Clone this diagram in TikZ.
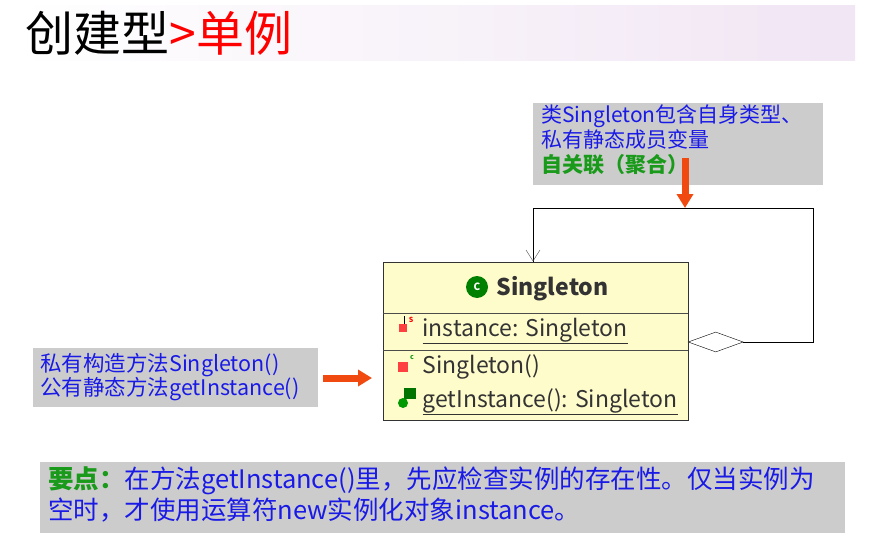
\documentclass[tikz,border=0pt]{standalone}
\usepackage{fontspec}
\setmainfont{Noto Sans CJK SC}
\usetikzlibrary{arrows.meta,shapes.geometric}
\definecolor{tblue}{HTML}{1A1AE6}
\definecolor{tgreen}{HTML}{1A9A1A}
\definecolor{gbox}{HTML}{CCCCCC}
\definecolor{orng}{HTML}{F04A10}
\tikzset{gray box/.style={fill=gbox,draw=none},
 orange arrow/.style={-{Triangle[length=14pt,width=16pt]},line width=7pt,draw=orng},
 member/.style={anchor=west,font=\fontsize{23}{26}\selectfont,text=black!80}}
\begin{document}
\begin{tikzpicture}[x=1pt,y=-1pt]
\useasboundingbox (0,0) rectangle (871,554);
\fill[white] (0,0) rectangle (871,554);
\shade[left color=white, right color=blue!12!violet!10!white] (18,5) rectangle (855,60);
\node[anchor=west,font=\fontsize{48}{52}\selectfont] (title) at (22,33) {创建型\textcolor{red}{>单例}};
% top note
\fill[gray box] (533,103) rectangle (823,185);
\node[anchor=north west,align=left,font=\fontsize{21}{25}\selectfont,inner sep=0] (note1) at (541,105)
 {\textcolor{tblue}{类Singleton包含自身类型、}\\\textcolor{tblue}{私有静态成员变量}\\\textcolor{tgreen}{\bfseries 自关联（聚合）}};
\coordinate (a1s) at (685,158);\coordinate (a1e) at (685,208);
\draw[orange arrow] (a1s) -- (a1e);
% class
\node[draw=black!80,fill=yellow!20,minimum width=305pt,minimum height=158pt,inner sep=0] (cls) at (535.5,341) {};
\draw[black!70] (383,313) -- (688,313) (383,350) -- (688,350);
\node[circle,fill=green!50!black,text=white,font=\bfseries\normalsize,minimum size=22pt,inner sep=0] (cicon) at (477,287) {C};
\node[anchor=west,font=\fontsize{23}{26}\selectfont\bfseries,text=black!80] (cname) at (493,289) {Singleton};
\node[member] (m1) at (419,331) {\underline{instance: Singleton}};
\node[member] (m2) at (419,367) {Singleton()};
\node[member] (m3) at (419,402) {\underline{getInstance(): Singleton}};
\fill[red!75] (399,324) rectangle (407,332); \node[text=red,font=\scriptsize\bfseries,inner sep=0] at (411,320) {S};
\draw[black,thick] (404,316)--(404,324);
\fill[red!75] (398,362) rectangle (408,372); \node[text=tgreen,font=\scriptsize\bfseries,inner sep=0] at (412,358) {c};
\fill[green!45!black] (404,388) rectangle (416,399); \fill[green!60!black] (403,403) circle (5pt);
% self association
\node[diamond,draw=black,fill=white,minimum width=55pt,minimum height=20pt,inner sep=0,anchor=west] (dia) at (688,342) {};
\coordinate (c1) at (813,342);\coordinate (c2) at (813,208);\coordinate (c3) at (533,208);\coordinate (c4) at (533,262);
\draw[black,line width=1pt] (dia.east) -- (c1) -- (c2) -- (c3) -- (c4);
\draw[black!70] (526,250) -- (533,261) -- (540,250);
% left note
\fill[gray box] (33,348) rectangle (318,407);
\node[anchor=north west,align=left,font=\fontsize{21.5}{24}\selectfont,inner sep=0,text=tblue] (note2) at (40,353)
 {私有构造方法Singleton()\\公有静态方法getInstance()};
\coordinate (a2s) at (323,378);\coordinate (a2e) at (372,378);
\draw[orange arrow] (a2s) -- (a2e);
% bottom
\fill[gray box] (40,462) rectangle (845,533);
\node[anchor=north west,align=left,font=\fontsize{25.5}{31}\selectfont,inner sep=0,text=tblue] (note3) at (48,466)
 {\textcolor{tgreen}{\bfseries 要点：}在方法getInstance()里，先应检查实例的存在性。仅当实例为\\空时，才使用运算符new实例化对象instance。};
\end{tikzpicture}
\end{document}
